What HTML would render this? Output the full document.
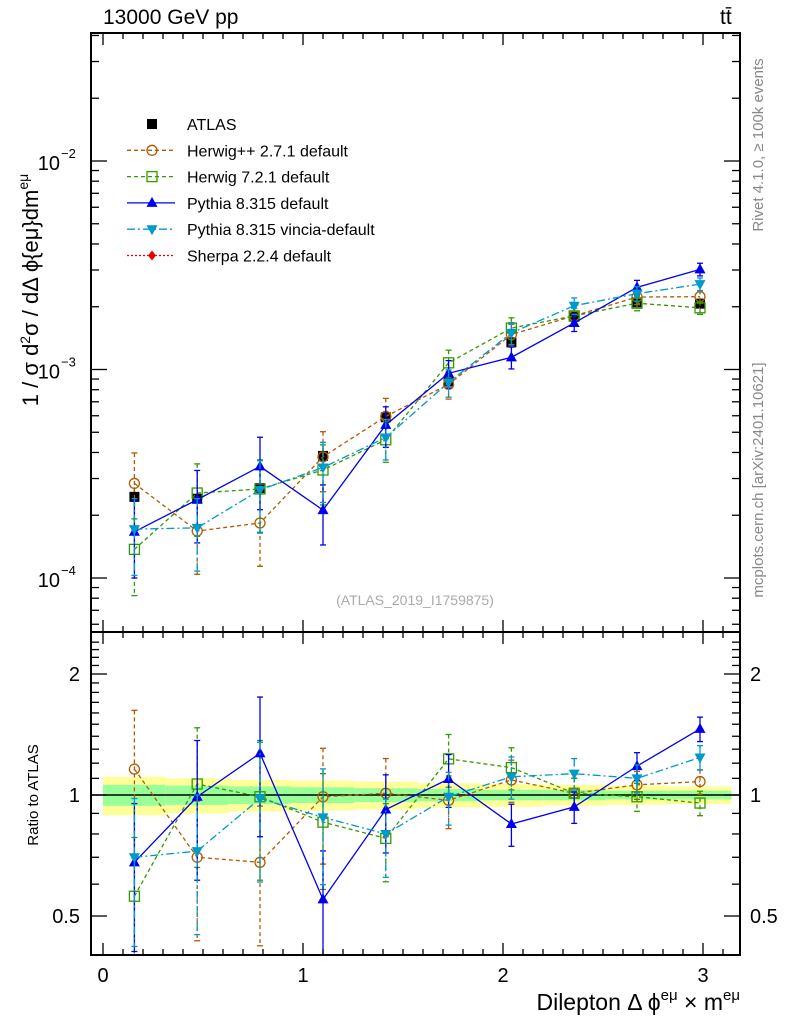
<!DOCTYPE html>
<html><head><meta charset="utf-8">
<style>
html,body{margin:0;padding:0;background:#fff;}
svg{display:block;font-family:"Liberation Sans",sans-serif;}
</style></head>
<body>
<svg id="c" width="786" height="1024" viewBox="0 0 786 1024"></svg>
<script>
const binCenters=[0.157,0.471,0.785,1.100,1.414,1.728,2.042,2.356,2.670,2.985];
const binEdges=[0,0.314,0.628,0.942,1.257,1.571,1.885,2.199,2.513,2.827,3.142];
const atlas=[2.45e-4,2.4e-4,2.7e-4,3.85e-4,5.9e-4,8.75e-4,1.35e-3,1.79e-3,2.1e-3,2.07e-3];
const atlasErrYellow=[0.11,0.1,0.09,0.085,0.08,0.07,0.065,0.06,0.055,0.05];
const atlasErrGreen=[0.06,0.055,0.05,0.045,0.04,0.035,0.03,0.03,0.025,0.025];
const herwigppRatio=[1.16,0.70,0.68,0.99,1.01,0.97,1.09,1.01,1.06,1.08];
const herwig7Ratio=[0.56,1.065,0.99,0.856,0.78,1.23,1.17,1.01,0.99,0.955];
const pythiaRatio=[0.68,0.99,1.27,0.55,0.92,1.096,0.847,0.934,1.18,1.46];
const vinciaRatio=[0.70,0.725,0.98,0.88,0.80,0.99,1.11,1.13,1.10,1.24];
const mcRelErr=[0.4,0.38,0.38,0.32,0.22,0.15,0.12,0.09,0.08,0.07];
const mainTicks=[1e-4,1e-3,1e-2];
const mainTickLabels=["10","10","10"];
const mainTickExp=["−4","−3","−2"];
const ratioTicks=[0.5,1,2];
const ratioTickLabels=["0.5","1","2"];
const xTicks=[0,1,2,3];

const S=document.getElementById('c');
const NS='http://www.w3.org/2000/svg';
function el(t,a,p){const e=document.createElementNS(NS,t);for(const k in a)e.setAttribute(k,a[k]);(p||S).appendChild(e);return e;}
const L=91,R=740,MT=33,MB=632,RT=632,RB=955;
const X=v=>103+200*v;
const Ym=v=>161-208.5*(Math.log10(v)+2);
const Yr=v=>795-402*Math.log10(v);

const gb=el('g',{});


for(let i=0;i<binCenters.length;i++){
  const x0=X(binEdges[i]),x1=X(binEdges[i+1]);
  el('rect',{x:x0,y:Yr(1+atlasErrYellow[i]),width:x1-x0,height:Yr(1-atlasErrYellow[i])-Yr(1+atlasErrYellow[i]),fill:'#ffff99'},gb);
  el('rect',{x:x0,y:Yr(1+atlasErrGreen[i]),width:x1-x0,height:Yr(1-atlasErrGreen[i])-Yr(1+atlasErrGreen[i]),fill:'#99ff99'},gb);
}
el('line',{x1:L,x2:R,y1:Yr(1),y2:Yr(1),stroke:'#000','stroke-width':1.5});

const series=[
 {name:'herwigpp',ratio:herwigppRatio,color:'#b35a00',dash:'4,3',marker:'circle'},
 {name:'herwig7',ratio:herwig7Ratio,color:'#339900',dash:'4,3',marker:'square'},
 {name:'pythia',ratio:pythiaRatio,color:'#0000ee',dash:'',marker:'up'},
 {name:'vincia',ratio:vinciaRatio,color:'#0099cc',dash:'8,3,2,3',marker:'down'}
];
function marker(g,type,x,y,c){
  if(type==='circle')el('circle',{cx:x,cy:y,r:5,fill:'none',stroke:c,'stroke-width':1.3},g);
  else if(type==='square')el('rect',{x:x-5,y:y-5,width:10,height:10,fill:'none',stroke:c,'stroke-width':1.3},g);
  else if(type==='up')el('polygon',{points:`${x},${y-6} ${x-5.5},${y+4} ${x+5.5},${y+4}`,fill:c},g);
  else if(type==='down')el('polygon',{points:`${x},${y+6} ${x-5.5},${y-4} ${x+5.5},${y-4}`,fill:c},g);
  else if(type==='fsquare')el('rect',{x:x-5,y:y-5,width:10,height:10,fill:c},g);
  else if(type==='diamond')el('polygon',{points:`${x},${y-5} ${x-4},${y} ${x},${y+5} ${x+4},${y}`,fill:c},g);
}
const clipM=el('clipPath',{id:'cm'});el('rect',{x:L,y:MT,width:R-L,height:MB-MT},clipM);
const clipR=el('clipPath',{id:'cr'});el('rect',{x:L,y:RT,width:R-L,height:RB-RT},clipR);
function drawSeries(s,panel){
  const g=el('g',{'clip-path':panel==='m'?'url(#cm)':'url(#cr)'});
  
  
  const val=i=>panel==='m'?atlas[i]*s.ratio[i]:s.ratio[i];
  const Y=panel==='m'?Ym:Yr;
  let pts=binCenters.map((c,i)=>X(c)+','+Y(val(i))).join(' ');
  el('polyline',{points:pts,fill:'none',stroke:s.color,'stroke-width':1.3,'stroke-dasharray':s.dash},g);
  binCenters.forEach((c,i)=>{
    const v=val(i),x=X(c);
    const y1=Y(v*(1+mcRelErr[i])),y2=Y(Math.max(v*(1-mcRelErr[i]),1e-9));
    el('line',{x1:x,x2:x,y1:y1,y2:y2,stroke:s.color,'stroke-width':1.3,'stroke-dasharray':s.dash},g);
    el('line',{x1:x-3,x2:x+3,y1:y1,y2:y1,stroke:s.color,'stroke-width':1.3},g);
    el('line',{x1:x-3,x2:x+3,y1:y2,y2:y2,stroke:s.color,'stroke-width':1.3},g);
    marker(g,s.marker,x,Y(v),s.color);
  });
}
const ga=el('g',{});


binCenters.forEach((c,i)=>{
  el('line',{x1:X(c),x2:X(c),y1:Ym(atlas[i]*(1+atlasErrYellow[i])),y2:Ym(atlas[i]*(1-atlasErrYellow[i])),stroke:'#000','stroke-width':1.3},ga);
  marker(ga,'fsquare',X(c),Ym(atlas[i]),'#000');
});
series.forEach(s=>{drawSeries(s,'m');drawSeries(s,'r');});

el('rect',{x:L,y:MT,width:R-L,height:MB-MT,fill:'none',stroke:'#000','stroke-width':2});
el('rect',{x:L,y:RT,width:R-L,height:RB-RT,fill:'none',stroke:'#000','stroke-width':2});
for(let v=0;v<=3.15;v+=0.1){
  const x=X(v),maj=Math.abs(v-Math.round(v))<1e-6;const len=maj?12:6;
  [MB,RB].forEach(yb=>el('line',{x1:x,x2:x,y1:yb,y2:yb-len,stroke:'#000','stroke-width':1.3}));
  [MT,RT].forEach(yt=>el('line',{x1:x,x2:x,y1:yt,y2:yt+len,stroke:'#000','stroke-width':1.3}));
}
xTicks.forEach(v=>{const t=el('text',{x:X(v),y:982,'font-size':20,'text-anchor':'middle'});t.textContent=v;
});
for(let d=-5;d<=-2;d++)for(let m=1;m<10;m++){
  const v=m*Math.pow(10,d),y=Ym(v);if(y<MT||y>MB)continue;const len=m===1?16:8;
  el('line',{x1:L,x2:L+len,y1:y,y2:y,stroke:'#000','stroke-width':1.3});
  el('line',{x1:R,x2:R-len,y1:y,y2:y,stroke:'#000','stroke-width':1.3});
}
mainTicks.forEach((v,i)=>{const t=el('text',{x:60,y:Ym(v)+9,'font-size':20,'text-anchor':'end'});t.textContent=mainTickLabels[i];

const e=el('text',{x:61,y:Ym(v)-3,'font-size':13});e.textContent=mainTickExp[i];});
for(let v=0.4;v<=2.5;v+=0.1){const y=Yr(v);if(y<RT||y>RB)continue;const maj=[0.5,1,2].some(q=>Math.abs(q-v)<1e-6);const len=maj?16:8;
  el('line',{x1:L,x2:L+len,y1:y,y2:y,stroke:'#000','stroke-width':1.3});el('line',{x1:R,x2:R-len,y1:y,y2:y,stroke:'#000','stroke-width':1.3});}
ratioTicks.forEach((v,i)=>{[80,750].forEach((x,k)=>{const t=el('text',{x:x,y:Yr(v)+7,'font-size':20,'text-anchor':k?'start':'end'});t.textContent=ratioTickLabels[i];
});});

const leg=[{l:'ATLAS',c:'#000',m:'fsquare',d:null},
{l:'Herwig++ 2.7.1 default',c:'#b35a00',m:'circle',d:'4,3'},
{l:'Herwig 7.2.1 default',c:'#339900',m:'square',d:'4,3'},
{l:'Pythia 8.315 default',c:'#0000ee',m:'up',d:''},
{l:'Pythia 8.315 vincia-default',c:'#0099cc',m:'down',d:'8,3,2,3'},
{l:'Sherpa 2.2.4 default',c:'#ee0000',m:'diamond',d:'2,2'}];
leg.forEach((e,i)=>{const y=124+26.3*i;const g=el('g',{});

if(e.d!==null)el('line',{x1:127,x2:175,y1:y,y2:y,stroke:e.c,'stroke-width':1.3,'stroke-dasharray':e.d},g);
marker(g,e.m,152,y,e.c);
const t=el('text',{x:187,y:y+6,'font-size':16},g);t.textContent=e.l;});

function txt(s,a,name){const t=el('text',a);t.textContent=s;return t;}
txt('13000 GeV pp',{x:103,y:24,'font-size':21},'title');
txt('tt̄',{x:720,y:24,'font-size':21},'process-label');
txt('(ATLAS_2019_I1759875)',{x:415,y:605,'font-size':14,fill:'#aaa','text-anchor':'middle'},'analysis-id');
txt('Ratio to ATLAS',{x:0,y:0,'font-size':15,transform:'translate(38,795) rotate(-90)','text-anchor':'middle'},'ratio-y-axis-title');
const yt=txt('',{x:0,y:0,'font-size':22,transform:'translate(38,290) rotate(-90)','text-anchor':'middle'},'y-axis-title');
yt.innerHTML='1 / σ  d<tspan font-size="14" dy="-8">2</tspan><tspan dy="8">σ / dΔ ϕ{eμ}dm</tspan><tspan font-size="14" dy="-10">eμ</tspan>';
const xt=txt('',{x:740,y:1010,'font-size':23,'text-anchor':'end'},'x-axis-title');
xt.innerHTML='Dilepton Δ ϕ<tspan font-size="15" dy="-10">eμ</tspan><tspan dy="10"> × m</tspan><tspan font-size="15" dy="-10">eμ</tspan>';
txt('Rivet 4.1.0, ≥ 100k events',{x:0,y:0,'font-size':15,fill:'#888',transform:'translate(763,145) rotate(-90)','text-anchor':'middle'},'rivet-label');
txt('mcplots.cern.ch [arXiv:2401.10621]',{x:0,y:0,'font-size':15,fill:'#888',transform:'translate(763,480) rotate(-90)','text-anchor':'middle'},'mcplots-label');
</script>
</body></html>
